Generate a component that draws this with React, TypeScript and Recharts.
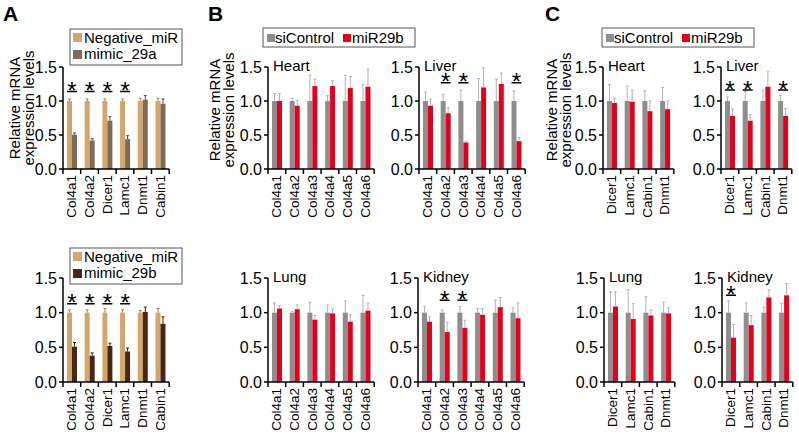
import React from 'react';
import { BarChart, Bar, XAxis, YAxis } from 'recharts';

// categories
const catsA = ['Col4a1', 'Col4a2', 'Dicer1', 'Lamc1', 'Dnmt1', 'Cabin1'];
const catsB = ['Col4a1', 'Col4a2', 'Col4a3', 'Col4a4', 'Col4a5', 'Col4a6'];
const catsC = ['Dicer1', 'Lamc1', 'Cabin1', 'Dnmt1'];

// panel A (cell lines, mimic)
const negA29a = [1, 1, 1, 1, 1, 1];
const negA29aErr = [0.03, 0.03, 0.03, 0.03, 0.04, 0.04];
const mimic29a = [0.505, 0.42, 0.71, 0.44, 1.02, 0.96];
const mimic29aErr = [0.025, 0.025, 0.06, 0.05, 0.06, 0.07];
const sigA29a = [1, 1, 1, 1, 0, 0];

const negA29b = [1, 1, 1, 1, 1, 1];
const negA29bErr = [0.04, 0.04, 0.06, 0.04, 0.03, 0.06];
const mimic29b = [0.51, 0.38, 0.52, 0.44, 1.01, 0.84];
const mimic29bErr = [0.06, 0.04, 0.04, 0.05, 0.07, 0.1];
const sigA29b = [1, 1, 1, 1, 0, 0];

// panel B (Col4a genes)
const ctrlB = [1, 1, 1, 1, 1, 1];
const heartBErr = [0.11, 0.04, 0.38, 0.08, 0.38, 0.24];
const heartB = [1.0, 0.93, 1.22, 1.22, 1.19, 1.21];
const heartBMiErr = [0.11, 0.08, 0.1, 0.08, 0.17, 0.26];

const liverBErr = [0.13, 0.1, 0.16, 0.33, 0.32, 0.15];
const liverB = [0.93, 0.82, 0.39, 1.2, 1.25, 0.41];
const liverBMiErr = [0.1, 0.08, 0.01, 0.29, 0.16, 0.05];
const sigLiverB = [0, 1, 1, 0, 0, 1];

const lungBErr = [0.14, 0.02, 0.15, 0.11, 0.17, 0.25];
const lungB = [1.06, 1.05, 0.9, 0.99, 0.87, 1.03];
const lungBMiErr = [0.04, 0.06, 0.06, 0.06, 0.1, 0.11];

const kidneyBErr = [0.09, 0.04, 0.09, 0.06, 0.18, 0.07];
const kidneyB = [0.87, 0.72, 0.78, 0.97, 1.08, 0.92];
const kidneyBMiErr = [0.07, 0.14, 0.11, 0.09, 0.14, 0.22];
const sigKidneyB = [0, 1, 1, 0, 0, 0];

// panel C
const ctrlC = [1, 1, 1, 1];
const heartCErr = [0.24, 0.22, 0.15, 0.2];
const heartC = [0.97, 0.99, 0.85, 0.88];
const heartCMiErr = [0.07, 0.17, 0.15, 0.12];

const liverCErr = [0.06, 0.14, 0.16, 0.08];
const liverC = [0.78, 0.71, 1.21, 0.78];
const liverCMiErr = [0.1, 0.09, 0.22, 0.11];
const sigLiverC = [1, 1, 0, 1];

const lungCErr = [0.3, 0.33, 0.23, 0.15];
const lungC = [1.09, 0.91, 0.96, 0.99];
const lungCMiErr = [0.21, 0.22, 0.08, 0.08];

const kidneyCErr = [0.17, 0.14, 0.08, 0.13];
const kidneyC = [0.64, 0.82, 1.22, 1.25];
const kidneyCMiErr = [0.19, 0.14, 0.11, 0.17];
const sigKidneyC = [1, 0, 0, 0];

const FONT = '"Liberation Sans", Arial, sans-serif';
const TAN = '#d3a76c';
const BROWN_A = '#7e6a55';
const BROWN_B = '#4a2713';
const GREY = '#8e8e8e';
const RED = '#e3001b';
const BAND = 17.7;
const YW = 40;
const MT = 10;
const XH = 55;

// draws bar, one-sided error bar and (optionally) the significance mark
function makeShape(valKey: string, errKey: string, errColor: string, sigLevel?: number) {
  return (props: any) => {
    const { x, y, width, height, fill, payload } = props;
    const v = payload[valKey];
    const e = payload[errKey];
    const k = v ? height / v : 0;
    const top = y - e * k;
    const cx = x + width / 2;
    let mark = null;
    if (sigLevel && payload.sig) {
      const uy = y + height - sigLevel * k;
      mark = (
        <g>
          <line x1={x - width} x2={x + width} y1={uy} y2={uy} stroke="#000" strokeWidth={1.5} />
          <text x={x} y={uy + 7.5} textAnchor="middle" fontSize={24} fontFamily={FONT} fill="#000">*</text>
        </g>
      );
    }
    return (
      <g>
        <rect x={x} y={y} width={width} height={height} fill={fill} />
        <line x1={cx} x2={cx} y1={y} y2={top} stroke={errColor} strokeWidth={1} />
        <line x1={cx - 1.5} x2={cx + 1.5} y1={top} y2={top} stroke={errColor} strokeWidth={1} />
        {mark}
      </g>
    );
  };
}

function CatTick(props: any) {
  const { x, y, payload, index, visibleTicksCount, width } = props;
  const half = payload && payload.offset > 0 ? payload.offset : (width && visibleTicksCount ? width / visibleTicksCount / 2 : BAND / 2);
  return (
    <g>
      <line x1={x - half} x2={x - half} y1={y} y2={y + 5} stroke="#000" strokeWidth={1.5} />
      {index === visibleTicksCount - 1 && (
        <line x1={x + half} x2={x + half} y1={y} y2={y + 5} stroke="#000" strokeWidth={1.5} />
      )}
      <text
        transform={`translate(${x + 4.5},${y + 6}) rotate(-90)`}
        textAnchor="end"
        fontSize={13.5}
        fontFamily={FONT}
        fill="#000"
      >
        {payload.value}
      </text>
    </g>
  );
}

interface PanelProps {
  left: number;
  top: number;
  plotH: number;
  cats: string[];
  ctrl: number[];
  ctrlErr: number[];
  trt: number[];
  trtErr: number[];
  sig?: number[];
  sigLevel?: number;
  ctrlColor: string;
  trtColor: string;
  ctrlErrColor: string;
  trtErrColor: string;
}

function Panel(p: PanelProps) {
  const data = p.cats.map((c, i) => ({
    cat: c,
    ctrl: p.ctrl[i],
    ctrlErr: p.ctrlErr[i],
    trt: p.trt[i],
    trtErr: p.trtErr[i],
    sig: p.sig ? p.sig[i] : 0,
  }));
  const plotW = p.cats.length * BAND;
  const width = YW + plotW + 8;
  const height = MT + p.plotH + XH;
  return (
    <div style={{ position: 'absolute', left: p.left - YW, top: p.top - MT }}>
      <BarChart
        width={width}
        height={height}
        data={data}
        margin={{ top: MT, right: 8, left: 0, bottom: 0 }}
        barGap={0}
        barSize={5}
      >
        <XAxis
          dataKey="cat"
          interval={0}
          height={XH}
          tickLine={false}
          tickSize={0}
          tickMargin={0}
          axisLine={{ stroke: '#000', strokeWidth: 1.5 }}
          tick={<CatTick />}
        />
        <YAxis
          width={YW}
          domain={[0, 1.5]}
          ticks={[0, 0.5, 1, 1.5]}
          tickFormatter={(v: number) => v.toFixed(1)}
          tickSize={4}
          tickMargin={2}
          axisLine={{ stroke: '#000', strokeWidth: 1.5 }}
          tickLine={{ stroke: '#000', strokeWidth: 1.5 }}
          tick={{ fill: '#000', fontSize: 16, fontFamily: FONT }}
          allowDataOverflow
        />
        <Bar
          dataKey="ctrl"
          fill={p.ctrlColor}
          isAnimationActive={false}
          shape={makeShape('ctrl', 'ctrlErr', p.ctrlErrColor)}
        />
        <Bar
          dataKey="trt"
          fill={p.trtColor}
          isAnimationActive={false}
          shape={makeShape('trt', 'trtErr', p.trtErrColor, p.sigLevel)}
        />
      </BarChart>
    </div>
  );
}

const ERR_GREY = '#b3b3b3';

function YLabel({ x, y }: { x: number; y: number }) {
  return (
    <g fontFamily={FONT} fontSize={15} fill="#000" textAnchor="middle">
      <text transform={`translate(${x},${y}) rotate(-90)`}>Relative mRNA</text>
      <text transform={`translate(${x + 14},${y}) rotate(-90)`}>expression levels</text>
    </g>
  );
}

function LegendA({ y, second, color }: { y: number; second: string; color: string }) {
  return (
    <g fontFamily={FONT} fontSize={15} fill="#000">
      <rect x={70} y={y} width={112} height={36} fill="#fff" stroke="#555" strokeWidth={1} />
      <rect x={73} y={y + 4} width={9} height={9} fill={TAN} />
      <text x={84} y={y + 14}>Negative_miR</text>
      <rect x={73} y={y + 21} width={9} height={9} fill={color} />
      <text x={84} y={y + 30}>{second}</text>
    </g>
  );
}

function LegendBC({ x }: { x: number }) {
  return (
    <g fontFamily={FONT} fontSize={15} fill="#000">
      <rect x={x} y={28} width={152} height={19} fill="#fff" stroke="#555" strokeWidth={1} />
      <rect x={x + 4} y={34} width={8} height={8} fill={GREY} />
      <text x={x + 12} y={43}>siControl</text>
      <rect x={x + 80} y={34} width={8} height={8} fill={RED} />
      <text x={x + 89} y={43}>miR29b</text>
    </g>
  );
}

const TOP1 = 67;
const H1 = 102;
const TOP2 = 278;
const H2 = 104;

export default function App() {
  const bc = { ctrlColor: GREY, trtColor: RED, ctrlErrColor: ERR_GREY, trtErrColor: ERR_GREY };
  const titles: [string, number, number][] = [
    ['Heart', 268, TOP1], ['Liver', 419, TOP1], ['Lung', 268, TOP2], ['Kidney', 418, TOP2],
    ['Heart', 603, TOP1], ['Liver', 721, TOP1], ['Lung', 604, TOP2], ['Kidney', 722, TOP2],
  ];
  return (
    <div style={{ position: 'absolute', left: 0, top: 0, width: 799, height: 439, background: '#fff', fontFamily: FONT }}>
      <Panel left={63} top={TOP1} plotH={H1} cats={catsA} ctrl={negA29a} ctrlErr={negA29aErr} trt={mimic29a} trtErr={mimic29aErr}
        sig={sigA29a} sigLevel={1.14} ctrlColor={TAN} trtColor={BROWN_A} ctrlErrColor="#a8834f" trtErrColor="#5e4c3a" />
      <Panel left={63} top={TOP2} plotH={H2} cats={catsA} ctrl={negA29b} ctrlErr={negA29bErr} trt={mimic29b} trtErr={mimic29bErr}
        sig={sigA29b} sigLevel={1.13} ctrlColor={TAN} trtColor={BROWN_B} ctrlErrColor="#a8834f" trtErrColor="#3a1d0c" />

      <Panel left={268} top={TOP1} plotH={H1} cats={catsB} ctrl={ctrlB} ctrlErr={heartBErr} trt={heartB} trtErr={heartBMiErr} {...bc} />
      <Panel left={419} top={TOP1} plotH={H1} cats={catsB} ctrl={ctrlB} ctrlErr={liverBErr} trt={liverB} trtErr={liverBMiErr}
        sig={sigLiverB} sigLevel={1.27} {...bc} />
      <Panel left={268} top={TOP2} plotH={H2} cats={catsB} ctrl={ctrlB} ctrlErr={lungBErr} trt={lungB} trtErr={lungBMiErr} {...bc} />
      <Panel left={418} top={TOP2} plotH={H2} cats={catsB} ctrl={ctrlB} ctrlErr={kidneyBErr} trt={kidneyB} trtErr={kidneyBMiErr}
        sig={sigKidneyB} sigLevel={1.18} {...bc} />

      <Panel left={603} top={TOP1} plotH={H1} cats={catsC} ctrl={ctrlC} ctrlErr={heartCErr} trt={heartC} trtErr={heartCMiErr} {...bc} />
      <Panel left={721} top={TOP1} plotH={H1} cats={catsC} ctrl={ctrlC} ctrlErr={liverCErr} trt={liverC} trtErr={liverCMiErr}
        sig={sigLiverC} sigLevel={1.16} {...bc} />
      <Panel left={604} top={TOP2} plotH={H2} cats={catsC} ctrl={ctrlC} ctrlErr={lungCErr} trt={lungC} trtErr={lungCMiErr} {...bc} />
      <Panel left={722} top={TOP2} plotH={H2} cats={catsC} ctrl={ctrlC} ctrlErr={kidneyCErr} trt={kidneyC} trtErr={kidneyCMiErr}
        sig={sigKidneyC} sigLevel={1.25} {...bc} />

      <svg width={799} height={439} style={{ position: 'absolute', left: 0, top: 0, pointerEvents: 'none' }}>
        <g fontFamily={FONT} fontSize={21} fontWeight="bold" fill="#000">
          <text x={3} y={21}>A</text>
          <text x={208} y={21}>B</text>
          <text x={545} y={21}>C</text>
        </g>
        <YLabel x={20} y={108} />
        <YLabel x={220} y={110} />
        <YLabel x={557} y={110} />
        <LegendA y={29} second="mimic_29a" color={BROWN_A} />
        <LegendA y={248} second="mimic_29b" color={BROWN_B} />
        <LegendBC x={263} />
        <LegendBC x={602} />
        <g fontFamily={FONT} fontSize={15} fill="#000">
          {titles.map(([t, x, y], i) => (
            <text key={i} x={x + 5} y={y + 4}>{t}</text>
          ))}
        </g>
      </svg>
    </div>
  );
}
